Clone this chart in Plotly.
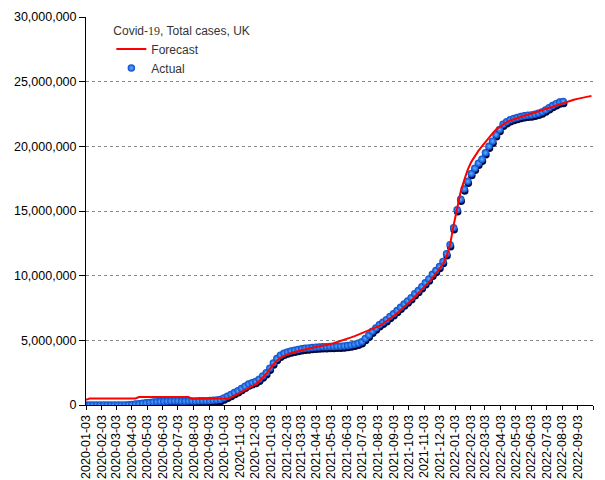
import plotly.graph_objects as go
import pandas as pd

# Weekly series starting 2020-01-03 (values in millions of cases)
start_date = "2020-01-03"
actual_m = [
    0, 0, 0, 0, 0, 0, 0, 0, 0, 0,
    0.001, 0.004, 0.015, 0.04, 0.07, 0.1, 0.14, 0.17, 0.2, 0.23,
    0.25, 0.27, 0.28, 0.29, 0.3, 0.31, 0.31, 0.29, 0.29, 0.3,
    0.3, 0.31, 0.32, 0.32, 0.33, 0.34, 0.36, 0.39, 0.42, 0.55,
    0.68, 0.82, 0.97, 1.1, 1.28, 1.45, 1.62, 1.72, 1.82, 2.0,
    2.25, 2.5, 2.85, 3.25, 3.6, 3.85, 4.0, 4.1, 4.18, 4.24,
    4.3, 4.35, 4.38, 4.41, 4.44, 4.46, 4.48, 4.5, 4.51, 4.52,
    4.53, 4.54, 4.55, 4.57, 4.6, 4.64, 4.7, 4.78, 4.9, 5.15,
    5.4, 5.7, 5.95, 6.2, 6.4, 6.6, 6.85, 7.05, 7.3, 7.55,
    7.8, 8.05, 8.3, 8.6, 8.85, 9.15, 9.45, 9.75, 10.1, 10.4,
    10.7, 11.1, 11.7, 12.4, 13.7, 15.1, 15.9, 16.7, 17.3, 17.9,
    18.3, 18.7, 19.0, 19.5, 20.0, 20.4, 20.9, 21.3, 21.7, 21.9,
    22.05, 22.15, 22.22, 22.3, 22.36, 22.4, 22.43, 22.48, 22.56, 22.66,
    22.8, 22.98, 23.15, 23.3, 23.42, 23.47,
]
forecast_m = [
    0.4, 0.5, 0.5, 0.5, 0.5, 0.5, 0.5, 0.5, 0.5, 0.5,
    0.5, 0.5, 0.5, 0.5, 0.5, 0.62, 0.62, 0.62, 0.62, 0.62,
    0.62, 0.62, 0.62, 0.62, 0.62, 0.62, 0.62, 0.62, 0.62, 0.62,
    0.48, 0.48, 0.48, 0.48, 0.48, 0.48, 0.48, 0.48, 0.48, 0.48,
    0.5, 0.58, 0.7, 0.85, 1.0, 1.15, 1.3, 1.45, 1.6, 1.85,
    2.1, 2.4, 2.8, 3.15, 3.45, 3.65, 3.8, 3.92, 4.02, 4.1,
    4.18, 4.25, 4.31, 4.37, 4.42, 4.47, 4.52, 4.57, 4.63, 4.7,
    4.78, 4.86, 4.95, 5.04, 5.13, 5.23, 5.33, 5.44, 5.55, 5.66,
    5.77, 5.88, 6.0, 6.12, 6.3, 6.48, 6.68, 6.88, 7.1, 7.33,
    7.57, 7.82, 8.08, 8.35, 8.62, 8.9, 9.2, 9.5, 9.82, 10.15,
    10.5, 10.9, 11.5, 12.4, 13.9, 15.3, 16.5, 17.4, 18.2, 18.8,
    19.25, 19.65, 20.0, 20.35, 20.7, 21.0, 21.3, 21.5, 21.7, 21.87,
    22.0, 22.1, 22.2, 22.28, 22.36, 22.44, 22.52, 22.6, 22.68, 22.77,
    22.86, 22.96, 23.06, 23.16, 23.26, 23.35, 23.44, 23.52, 23.6, 23.67,
    23.73, 23.79, 23.85, 23.9,
]
x_tick_labels = [
    "2020-01-03", "2020-02-03", "2020-03-03", "2020-04-03", "2020-05-03", "2020-06-03",
    "2020-07-03", "2020-08-03", "2020-09-03", "2020-10-03", "2020-11-03", "2020-12-03",
    "2021-01-03", "2021-02-03", "2021-03-03", "2021-04-03", "2021-05-03", "2021-06-03",
    "2021-07-03", "2021-08-03", "2021-09-03", "2021-10-03", "2021-11-03", "2021-12-03",
    "2022-01-03", "2022-02-03", "2022-03-03", "2022-04-03", "2022-05-03", "2022-06-03",
    "2022-07-03", "2022-08-03", "2022-09-03", "2022-10-03",
]
x_tick_text = x_tick_labels[:-1] + [""]
y_tick_vals = [0, 5e6, 10e6, 15e6, 20e6, 25e6, 30e6]

actual_dates = pd.date_range(start_date, periods=len(actual_m), freq="7D")
forecast_dates = pd.date_range(start_date, periods=len(forecast_m), freq="7D")
actual_vals = [v * 1e6 for v in actual_m]
forecast_vals = [v * 1e6 for v in forecast_m]

X0, X1 = x_tick_labels[0], x_tick_labels[-1]
Y0, Y1 = 0, 30e6
# shadow axes: same scale, shifted ~2 px down for a sphere-shadow look
shift_y = 2.0 * (Y1 - Y0) / 388.0
shift_x_days = 1.0
X0s = (pd.Timestamp(X0) - pd.Timedelta(days=shift_x_days)).strftime("%Y-%m-%d %H:%M")
X1s = (pd.Timestamp(X1) - pd.Timedelta(days=shift_x_days)).strftime("%Y-%m-%d %H:%M")

fig = go.Figure()
# empty base trace keeps the main (tick/grid) subplot alive
fig.add_trace(go.Scatter(x=[X0], y=[None], mode="lines", showlegend=False, hoverinfo="skip"))
fig.add_trace(go.Scatter(
    x=actual_dates, y=actual_vals, mode="markers", name="shadow",
    showlegend=False, hoverinfo="skip", xaxis="x2", yaxis="y2",
    marker=dict(size=7.5, color="#000838", line=dict(width=0)),
))
fig.add_trace(go.Scatter(
    x=actual_dates, y=actual_vals, mode="markers", name="Actual",
    legendrank=2, xaxis="x3", yaxis="y3",
    marker=dict(size=7.5, color="#0a48cc", line=dict(width=0),
                gradient=dict(type="radial", color="#5cb4ff")),
))
fig.add_trace(go.Scatter(
    x=forecast_dates, y=forecast_vals, mode="lines", name="Forecast",
    legendrank=1, xaxis="x3", yaxis="y3",
    line=dict(color="#ff0000", width=2),
))

tick_font = dict(family="Liberation Sans", size=12.5, color="black")

# the page body adds an 8 px offset, so the figure is drawn 8 px smaller
fig.update_layout(
    width=597, height=472,
    margin=dict(l=78, r=12, t=9, b=75),
    paper_bgcolor="white", plot_bgcolor="white",
    showlegend=True,
    legend=dict(
        x=0.05, y=0.995, xanchor="left", yanchor="top",
        bgcolor="rgba(0,0,0,0)",
        font=dict(family="Liberation Sans", size=12, color="#333333"),
        title=dict(text="Covid-<span style='font-family:Liberation Serif'>19</span>, Total cases, UK",
                   font=dict(family="Liberation Sans", size=12, color="#333333")),
        tracegroupgap=0,
    ),
    xaxis=dict(
        type="date", automargin=False,
        range=[X0, X1],
        tickmode="array", tickvals=x_tick_labels, ticktext=x_tick_text,
        tickangle=-90, ticks="outside", ticklen=4, tickcolor="black",
        showline=True, linecolor="black", linewidth=1,
        showgrid=False, zeroline=False,
        tickfont=tick_font,
    ),
    yaxis=dict(
        range=[Y0, Y1], automargin=False,
        tickmode="array", tickvals=y_tick_vals, tickformat=",d",
        ticks="outside", ticklen=6, tickcolor="black",
        showline=True, linecolor="black", linewidth=1,
        showgrid=True, gridcolor="#888888", griddash="dot", gridwidth=1,
        zeroline=False,
        tickfont=tick_font,
    ),
    xaxis2=dict(type="date", overlaying="x", range=[X0s, X1s], visible=False),
    yaxis2=dict(overlaying="y", range=[Y0 + shift_y, Y1 + shift_y], visible=False),
    xaxis3=dict(type="date", overlaying="x", range=[X0, X1], visible=False),
    yaxis3=dict(overlaying="y", range=[Y0, Y1], visible=False),
)

fig.write_html("out.html")
